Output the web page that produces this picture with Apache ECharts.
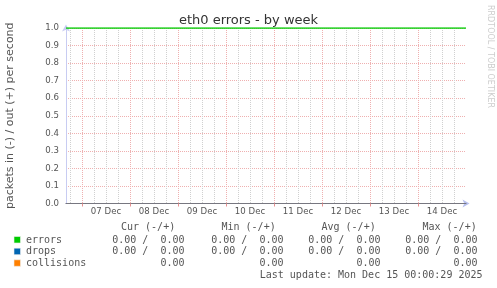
<!DOCTYPE html>
<html>
<head>
<meta charset="utf-8">
<script src="https://cdn.jsdelivr.net/npm/echarts@6/dist/echarts.min.js"></script>
<style>
html,body{margin:0;padding:0;background:#fff;}
#chart{width:497px;height:288px;}
</style>
</head>
<body>
<div id="chart"></div>
<script>
// ---- data ----
var sampleTimes = ['2025-12-06T16:00:00Z','2025-12-07T00:00:00Z','2025-12-08T00:00:00Z','2025-12-09T00:00:00Z','2025-12-10T00:00:00Z','2025-12-11T00:00:00Z','2025-12-12T00:00:00Z','2025-12-13T00:00:00Z','2025-12-14T00:00:00Z','2025-12-15T00:00:00Z'];
var errorsValues = [1,1,1,1,1,1,1,1,1,1];
var dropsValues = [0,0,0,0,0,0,0,0,0,0];
var collisionsValues = [0,0,0,0,0,0,0,0,0,0];
var axisStart = '2025-12-06T16:00:00Z';
var axisEnd = '2025-12-15T00:00:00Z';
var dayLines = ['2025-12-07T00:00:00Z','2025-12-08T00:00:00Z','2025-12-09T00:00:00Z','2025-12-10T00:00:00Z','2025-12-11T00:00:00Z','2025-12-12T00:00:00Z','2025-12-13T00:00:00Z','2025-12-14T00:00:00Z'];
var sixHourLines = ['2025-12-06T18:00:00Z',
 '2025-12-07T06:00:00Z','2025-12-07T12:00:00Z','2025-12-07T18:00:00Z',
 '2025-12-08T06:00:00Z','2025-12-08T12:00:00Z','2025-12-08T18:00:00Z',
 '2025-12-09T06:00:00Z','2025-12-09T12:00:00Z','2025-12-09T18:00:00Z',
 '2025-12-10T06:00:00Z','2025-12-10T12:00:00Z','2025-12-10T18:00:00Z',
 '2025-12-11T06:00:00Z','2025-12-11T12:00:00Z','2025-12-11T18:00:00Z',
 '2025-12-12T06:00:00Z','2025-12-12T12:00:00Z','2025-12-12T18:00:00Z',
 '2025-12-13T06:00:00Z','2025-12-13T12:00:00Z','2025-12-13T18:00:00Z',
 '2025-12-14T06:00:00Z','2025-12-14T12:00:00Z','2025-12-14T18:00:00Z'];
var labelTimes = ['2025-12-07T12:00:00Z','2025-12-08T12:00:00Z','2025-12-09T12:00:00Z','2025-12-10T12:00:00Z','2025-12-11T12:00:00Z','2025-12-12T12:00:00Z','2025-12-13T12:00:00Z','2025-12-14T12:00:00Z'];
var xTickLabels = ['07 Dec','08 Dec','09 Dec','10 Dec','11 Dec','12 Dec','13 Dec','14 Dec'];
var yMin = 0, yMax = 1, yStep = 0.1;
var titleText = 'eth0 errors - by week';
var yAxisTitle = 'packets in (-) / out (+) per second';
var watermark = 'RRDTOOL / TOBI OETIKER';
var seriesNames = ['errors','drops','collisions'];
var statHeaders = ['Cur (-/+)','Min (-/+)','Avg (-/+)','Max (-/+)'];
var errorsStats = ['0.00 /  0.00','0.00 /  0.00','0.00 /  0.00','0.00 /  0.00'];
var dropsStats = ['0.00 /  0.00','0.00 /  0.00','0.00 /  0.00','0.00 /  0.00'];
var collisionsStats = ['0.00','0.00','0.00','0.00'];
var lastUpdate = 'Last update: Mon Dec 15 00:00:29 2025';

// ---- styles ----
var seriesColors = ['#00cc00','#0066b3','#ff8000'];
var textColor = '#555';
var sans = 'DejaVu Sans';
var majorGrid = '#efb0b0';
var minorGrid = '#d0d0d0';

function ts(s){ return Date.parse(s); }
function pairs(values){ return sampleTimes.map(function(t,i){ return [ts(t), values[i]]; }); }
var labelTs = labelTimes.map(ts);

var chart = echarts.init(document.getElementById('chart'), null, {renderer:'canvas'});

var graphics = [];
graphics.push({type:'text', x:490, y:5, rotation:-Math.PI/2,
  style:{text:watermark, fill:'#cdcdcd', font:'8px "DejaVu Sans"', textAlign:'left', textVerticalAlign:'middle'}});
var colRight = [184.5, 283.5, 380.5, 477.5];
var colHeadLeft = [121, 221.5, 321.5, 422.5];
var rowY = [240, 251.7, 263.3];
var rowStats = [errorsStats, dropsStats, collisionsStats];
statHeaders.forEach(function(h,i){
  graphics.push({type:'text', x:colHeadLeft[i], y:227.5, style:{text:h, fill:textColor, font:'10px "DejaVu Sans Mono"', textAlign:'left', textVerticalAlign:'middle'}});
});
seriesNames.forEach(function(n,r){
  graphics.push({type:'rect', shape:{x:14, y:rowY[r]-3.5, width:6.5, height:6.5}, style:{fill:seriesColors[r], stroke:'#eeeeee', lineWidth:0.6}});
  graphics.push({type:'text', x:26, y:rowY[r], style:{text:n, fill:textColor, font:'10px "DejaVu Sans Mono"', textAlign:'left', textVerticalAlign:'middle'}});
  rowStats[r].forEach(function(v,c){
    graphics.push({type:'text', x:colRight[c], y:rowY[r], style:{text:v, fill:textColor, font:'10px "DejaVu Sans Mono"', textAlign:'right', textVerticalAlign:'middle'}});
  });
});
graphics.push({type:'text', x:482.5, y:275, style:{text:lastUpdate, fill:textColor, font:'10px "DejaVu Sans Mono"', textAlign:'right', textVerticalAlign:'middle'}});

var baseX = {type:'value', min:ts(axisStart), max:ts(axisEnd), position:'bottom', scale:true};

chart.setOption({
  animation:false,
  backgroundColor:'#ffffff',
  title:{text:titleText, left:'center', top:9, textStyle:{fontFamily:sans, fontSize:13, fontWeight:'normal', color:'#333'}},
  grid:{left:66, right:31, top:28, bottom:84.5, outerBoundsMode:'none', containLabel:false},
  xAxis:[
    Object.assign({}, baseX, {
      z:3,
      axisLine:{show:true, lineStyle:{color:'#777780', width:1}},
      axisTick:{show:true, length:3, customValues:dayLines.map(ts), lineStyle:{color:'#e89090'}},
      axisLabel:{show:true, customValues:labelTs, margin:4, fontFamily:sans, fontSize:8.6, color:textColor,
        formatter:function(v){ var i = labelTs.indexOf(v); return i>=0 ? xTickLabels[i] : ''; }},
      splitLine:{show:false}
    }),
    Object.assign({}, baseX, {
      z:0,
      axisLine:{show:false},
      axisTick:{show:false, customValues:sixHourLines.map(ts)},
      axisLabel:{show:false},
      splitLine:{show:true, lineStyle:{color:minorGrid, type:[1,1], width:1}}
    }),
    Object.assign({}, baseX, {
      z:0,
      axisLine:{show:true, symbol:['none','arrow'], symbolSize:[6,7], symbolOffset:[0,3.5], lineStyle:{color:'#b8c0ee', width:1}},
      axisTick:{show:false, customValues:dayLines.map(ts)},
      axisLabel:{show:false},
      splitLine:{show:true, lineStyle:{color:majorGrid, type:[1,1], width:1}}
    })
  ],
  yAxis:{
    type:'value', min:yMin, max:yMax, interval:yStep, z:0,
    name:yAxisTitle, nameLocation:'middle', nameGap:50, nameRotate:90,
    nameTextStyle:{fontFamily:sans, fontSize:11, color:textColor},
    axisLine:{show:true, symbol:['none','arrow'], symbolSize:[6,7], symbolOffset:[0,3.5], lineStyle:{color:'#c8ccf2', width:1}},
    axisTick:{show:false},
    axisLabel:{margin:7, fontFamily:sans, fontSize:8.6, color:textColor, formatter:function(v){ return v.toFixed(1); }},
    splitLine:{show:true, lineStyle:{color:majorGrid, type:[1,1], width:1}}
  },
  series:[
    {name:seriesNames[1], type:'line', data:pairs(dropsValues), showSymbol:false, z:-1, lineStyle:{color:seriesColors[1], width:1}, itemStyle:{color:seriesColors[1]}},
    {name:seriesNames[2], type:'line', data:pairs(collisionsValues), showSymbol:false, z:-1, lineStyle:{color:seriesColors[2], width:1}, itemStyle:{color:seriesColors[2]}},
    {name:seriesNames[0], type:'line', data:pairs(errorsValues), showSymbol:false, z:2, lineStyle:{color:seriesColors[0], width:1.5}, itemStyle:{color:seriesColors[0]}}
  ],
  graphic:graphics
});
</script>
</body>
</html>
